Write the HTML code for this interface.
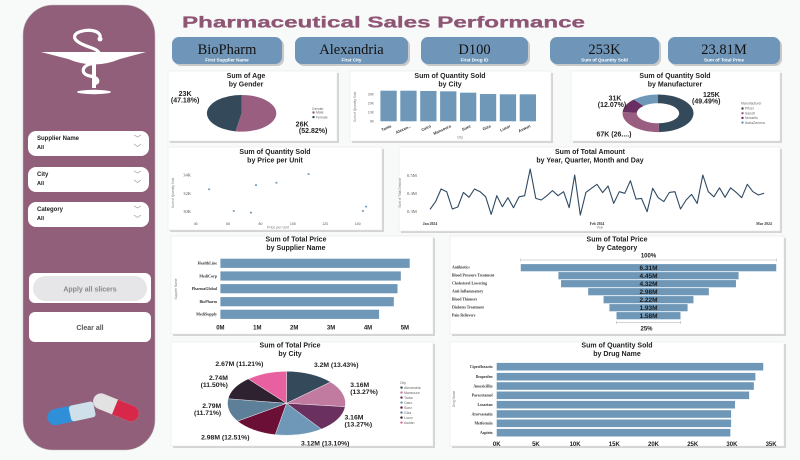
<!DOCTYPE html>
<html><head><meta charset="utf-8"><title>Pharmaceutical Sales Performance</title>
<style>
html,body{margin:0;padding:0;background:#f8f9f9;}
svg{display:block;font-family:"Liberation Sans",sans-serif;}
</style></head>
<body>
<svg id="page" width="800" height="460" viewBox="0 0 800 460" xmlns="http://www.w3.org/2000/svg">
<rect x="0" y="0" width="800" height="460" fill="#f8f9f9"/>
<g>
  <rect x="23" y="5" width="132" height="445" rx="30" fill="#925f7a" stroke="#bbb" stroke-width="0.6"/>
  <g fill="#fff" stroke="#fff">
    <path d="M41,52 L146,52 L120,59 Q94,70 68,59 Z" stroke="none"/>
    <rect x="92" y="62" width="4" height="26" stroke="none"/>
    <ellipse cx="94" cy="92" rx="17" ry="2.2" stroke="none"/>
    <path d="M100,38 C102,30 86,28 77,33 C68,40 86,46 92,48 C104,52 102,62 90,64 C82,66 80,74 90,76 C100,78 100,84 92,84" fill="none" stroke-width="3.2"/>
    <circle cx="100" cy="39" r="2.5" stroke="none"/>
  </g>
  <g>
    <rect x="28" y="131" width="121" height="25" rx="8" fill="#fff"/>
    <text x="37" y="140" font-size="6" font-weight="bold" fill="#222">Supplier Name</text>
    <text x="37" y="149" font-size="5.5" font-weight="bold" fill="#222">All</text>
    <path d="M134,135 l3.5,2 l3.5,-2 M134,144 l3.5,2.5 l3.5,-2.5" fill="none" stroke="#999" stroke-width="0.7"/>
  </g>
  <g>
    <rect x="28" y="167" width="121" height="25" rx="8" fill="#fff"/>
    <text x="37" y="176" font-size="6" font-weight="bold" fill="#222">City</text>
    <text x="37" y="185" font-size="5.5" font-weight="bold" fill="#222">All</text>
    <path d="M134,171 l3.5,2 l3.5,-2 M134,180 l3.5,2.5 l3.5,-2.5" fill="none" stroke="#999" stroke-width="0.7"/>
  </g>
  <g>
    <rect x="28" y="202" width="121" height="25" rx="8" fill="#fff"/>
    <text x="37" y="211" font-size="6" font-weight="bold" fill="#222">Category</text>
    <text x="37" y="220" font-size="5.5" font-weight="bold" fill="#222">All</text>
    <path d="M134,206 l3.5,2 l3.5,-2 M134,215 l3.5,2.5 l3.5,-2.5" fill="none" stroke="#999" stroke-width="0.7"/>
  </g>
  <g>
    <rect x="29" y="273" width="122" height="30" rx="6" fill="#fff"/>
    <rect x="33" y="276" width="114" height="25" rx="12.5" fill="#e6e6e8"/>
    <text x="90" y="291.5" font-size="7" fill="#888" text-anchor="middle" font-weight="bold">Apply all slicers</text>
  </g>
  <g>
    <rect x="29" y="312" width="122" height="30" rx="6" fill="#fff"/>
    <text x="90" y="330" font-size="7" fill="#555" text-anchor="middle" font-weight="bold">Clear all</text>
  </g>
  <g>
    <g transform="rotate(-12 70 414)">
      <rect x="47" y="406" width="48" height="16" rx="8" fill="#2f8fd8"/>
      <rect x="70" y="406" width="25" height="16" rx="3" fill="#cfe0ea"/>
    </g>
    <g transform="rotate(22 115 407)">
      <rect x="92" y="399" width="48" height="16" rx="8" fill="#e2e2e2"/>
      <rect x="115" y="399" width="25" height="16" rx="8" fill="#d8284a"/>
      <rect x="115" y="399" width="6" height="16" fill="#d8284a"/>
    </g>
  </g>
</g>
<text x="182" y="27.5" font-size="16" font-weight="900" fill="#8e5674" stroke="#8e5674" stroke-width="0.3" textLength="403" lengthAdjust="spacingAndGlyphs">Pharmaceutical Sales Performance</text>
<g id="kpis"></g>
<g id="charts"></g>
</svg>
<script>
const kpiValues = ['BioPharm','Alexandria','D100','253K','23.81M'];
const kpiLabels = ['First Supplier Name','First City','First Drug ID','Sum of Quantity Sold','Sum of Total Price'];
const genderLabels = ['Male','Female'];
const genderValues = [26.0, 23.22];
const cityBarLabels = ['Tanta','Alexan...','Cairo','Mansoura','Suez','Giza','Luxor','Aswan'];
const cityBarValues = [34, 34, 33.7, 33.3, 31.8, 30.3, 30, 30];
const cityBarTicks = [0, 10, 20, 30];
const manufLabels = ['Pfizer','Sanofi','Novartis','AstraZeneca'];
const manufValues = [125, 67, 30.5, 30.1];
const scatterPrice = [48.3, 63.5, 74.1, 77.2, 89.8, 109.7, 143.2, 145.2];
const scatterQty = [32.44, 30.08, 29.9, 32.9, 33.16, 34.1, 30.08, 30.55];
const scatterXTicks = [40, 60, 80, 100, 120, 140];
const scatterYTicks = [30, 32, 34];
const lineValues = [0.313,0.356,0.426,0.411,0.315,0.326,0.407,0.380,0.426,0.411,0.383,0.285,0.389,0.328,0.378,0.322,0.383,0.389,0.537,0.374,0.365,0.389,0.417,0.389,0.411,0.322,0.504,0.281,0.407,0.430,0.452,0.406,0.443,0.346,0.411,0.402,0.472,0.370,0.374,0.300,0.430,0.378,0.356,0.407,0.411,0.315,0.365,0.396,0.346,0.504,0.411,0.383,0.433,0.380,0.433,0.407,0.378,0.452,0.411,0.393,0.402];
const lineXLabels = ['Jan 2024','Feb 2024','Mar 2024'];
const lineXLabelIdx = [0, 30, 60];
const lineYTicks = [0.3, 0.4, 0.5];
const supplierNames = ['HealthLine','MediCorp','PharmaGlobal','BioPharm','MediSupply'];
const supplierValues = [5.13, 4.89, 4.80, 4.70, 4.30];
const supplierTicks = [0, 1, 2, 3, 4, 5];
const categoryNames = ['Antibiotics','Blood Pressure Treatment','Cholesterol Lowering','Anti-Inflammatory','Blood Thinners','Diabetes Treatment','Pain Relievers'];
const categoryValues = [6.31, 4.45, 4.32, 2.98, 2.22, 1.93, 1.58];
const pieCityNames = ['Alexandria','Mansoura','Tanta','Cairo','Suez','Giza','Luxor','Aswan'];
const pieCityValues = [3.20, 3.16, 3.16, 3.12, 2.98, 2.79, 2.74, 2.67];
const drugNames = ['Ciprofloxacin','Ibuprofen','Amoxicillin','Paracetamol','Losartan','Atorvastatin','Metformin','Aspirin'];
const drugValues = [34.0, 33.0, 32.8, 32.2, 30.4, 29.9, 29.9, 29.8];
const drugTicks = [0, 5, 10, 15, 20, 25, 30, 35];

const NS = 'http://www.w3.org/2000/svg';
const root = document.getElementById('charts');
const kroot = document.getElementById('kpis');
const BLUE = '#6f98b8';
function mk(tag, attrs, parent){const e=document.createElementNS(NS,tag);for(const k in attrs)e.setAttribute(k,attrs[k]);(parent||root).appendChild(e);return e;}
function tx(x,y,s,attrs,parent){const e=mk('text',Object.assign({x:x,y:y},attrs||{}),parent);e.textContent=s;return e;}
function panel(x,y,w,h,name){
  const g=mk('g',{});
  
  
  mk('rect',{x:x+2,y:y+2,width:w,height:h,fill:'#d4d4d4'},g);
  mk('rect',{x:x,y:y,width:w,height:h,fill:'#fff',stroke:'#e4e4e4','stroke-width':0.5},g);
  return g;
}
function title(g,cx,y1,l1,l2){
  const a=tx(cx,y1,l1,{'font-size':7,'font-weight':'bold','text-anchor':'middle',fill:'#222'},g);
  
  
  const b=tx(cx,y1+8.5,l2,{'font-size':7,'font-weight':'bold','text-anchor':'middle',fill:'#222'},g);
  
  
}
function arcPath(cx,cy,rx,ry,a0,a1,irx,iry){
  const p=(a,r1,r2)=>[cx+r1*Math.sin(a),cy-r2*Math.cos(a)];
  const large=(a1-a0)>Math.PI?1:0;
  const [x0,y0]=p(a0,rx,ry),[x1,y1]=p(a1,rx,ry);
  if(!irx) return `M${cx},${cy} L${x0},${y0} A${rx},${ry} 0 ${large} 1 ${x1},${y1} Z`;
  const [x2,y2]=p(a1,irx,iry),[x3,y3]=p(a0,irx,iry);
  return `M${x0},${y0} A${rx},${ry} 0 ${large} 1 ${x1},${y1} L${x2},${y2} A${irx},${iry} 0 ${large} 0 ${x3},${y3} Z`;
}

const kpiX=[172,295,421,550,668], kpiW=[110,113,107,109,112];
kpiValues.forEach((v,i)=>{
  const g=mk('g',{},kroot);
  
  
  mk('rect',{x:kpiX[i]+2,y:39,width:kpiW[i],height:27,rx:7,fill:'#c8c8c8'},g);
  mk('rect',{x:kpiX[i],y:37,width:kpiW[i],height:27,rx:7,fill:'#6f96b8'},g);
  tx(kpiX[i]+kpiW[i]/2,54,v,{'font-size':14.5,'font-family':'"Liberation Serif",serif','text-anchor':'middle',fill:'#111'},g);
  tx(kpiX[i]+kpiW[i]/2,61.5,kpiLabels[i],{'font-size':4.6,'font-weight':'bold','text-anchor':'middle',fill:'#fff'},g);
});

(function(){
  const g=panel(168,71,169,70,'gender-pie-panel');
  title(g,246,78,'Sum of Age','by Gender');
  const cx=241.6,cy=113.3,rx=34.7,ry=18.3,cols=['#9a5e80','#34495a'];
  const sum=genderValues.reduce((a,b)=>a+b,0);let a=0;
  genderValues.forEach((v,i)=>{
    const a1=a+v/sum*2*Math.PI;
    const s=mk('path',{d:arcPath(cx,cy,rx,ry,a,a1),fill:cols[i]},g);
    
    
    const m=(a+a1)/2,sn=Math.sin(m),cs=Math.cos(m);
    const lx=cx+(rx+14)*sn, ly=cy-(ry+6)*cs;
    const l=mk('g',{},g);
    
    
    const pct=(v/sum*100).toFixed(2);
    const xx=sn>0?lx+12:lx+6;
    tx(sn>0?xx:xx-14,ly-2+(sn>0?13:-13),Math.round(v)+'K',{'font-size':7,'font-weight':'bold','text-anchor':'middle',fill:'#222'},l);
    tx(sn>0?xx+11:xx-14,ly+4.5+(sn>0?13:-13),'('+pct+'%)',{'font-size':7,'font-weight':'bold','text-anchor':'middle',fill:'#222'},l);
    a=a1;
  });
  const lg=mk('g',{},g);
  
  
  tx(312,110,'Gender',{'font-size':3.5,fill:'#666'},lg);
  genderLabels.forEach((n,i)=>{
    mk('circle',{cx:313.5,cy:112.5+i*4.6,r:1.2,fill:cols[i]},lg);
    tx(316,113.7+i*4.6,n,{'font-size':3.5,fill:'#666'},lg);
  });
})();

(function(){
  const g=panel(350,71,201,70,'city-bar-panel');
  title(g,450,78,'Sum of Quantity Sold','by City');
  const y0=121.3,k=0.9,x0=380.4,slot=19.9,bw=16.3;
  const Y=v=>y0-v*k;
  cityBarTicks.forEach(t=>{
    const e=tx(374,Y(t)+1,t+'K',{'font-size':3.5,'text-anchor':'end',fill:'#666'},g);
    
    
  });
  cityBarValues.forEach((v,i)=>{
    const r=mk('rect',{x:x0+i*slot,y:Y(v),width:bw,height:y0-Y(v),fill:BLUE},g);
    
    
    const cx=x0+i*slot+bw/2;
    const l=tx(cx+3,127,cityBarLabels[i],{'font-size':4,'font-weight':'bold','text-anchor':'end',fill:'#333',transform:`rotate(-25 ${cx+3} 127)`},g);
    
    
  });
  const xt=tx(460,138.5,'City',{'font-size':3.5,'text-anchor':'middle',fill:'#777'},g);
  
  
  const yt=tx(356,107,'Sum of Quantity Sold',{'font-size':3.2,'text-anchor':'middle',fill:'#777',transform:'rotate(-90 356 107)'},g);
  
  
})();

(function(){
  const g=panel(571,71,209,70,'manufacturer-donut-panel');
  title(g,675,78,'Sum of Quantity Sold','by Manufacturer');
  const cx=658,cy=113.3,rx=35.5,ry=18.8,cols=['#34495a','#9a5e80','#6a2f62','#6f98b8'];
  const sum=manufValues.reduce((a,b)=>a+b,0);let a=0;
  manufValues.forEach((v,i)=>{
    const a1=a+v/sum*2*Math.PI;
    const s=mk('path',{d:arcPath(cx,cy,rx,ry,a,a1,21.2,10),fill:cols[i]},g);
    
    
    a=a1;
  });
  const pct=v=>(v/sum*100).toFixed(2);
  const lab=mk('g',{},g);
  
  
  const st={'font-size':7,'font-weight':'bold',fill:'#222'};
  tx(703,97,Math.round(manufValues[0])+'K',st,lab);
  tx(692,103.5,'('+pct(manufValues[0])+'%)',st,lab);
  tx(615,100.5,Math.round(manufValues[2])+'K',Object.assign({'text-anchor':'middle'},st),lab);
  tx(612,107,'('+pct(manufValues[2])+'%)',Object.assign({'text-anchor':'middle'},st),lab);
  tx(614,136.5,Math.round(manufValues[1])+'K (26....)',Object.assign({'text-anchor':'middle'},st),lab);
  const lg=mk('g',{},g);
  
  
  tx(741,104.5,'Manufacturer',{'font-size':3.5,fill:'#666'},lg);
  manufLabels.forEach((n,i)=>{
    mk('circle',{cx:742.5,cy:108.5+i*4.7,r:1.2,fill:cols[i]},lg);
    tx(745,109.7+i*4.7,n,{'font-size':3.5,fill:'#666'},lg);
  });
})();

(function(){
  const g=panel(168,147,214,83,'price-scatter-panel');
  title(g,275,154,'Sum of Quantity Sold','by Price per Unit');
  const X=p=>195.7+(p-40)*1.62, Y=q=>211.7-(q-30)*9.17;
  scatterYTicks.forEach(t=>{
    const e=tx(191,Y(t)+1.5,t+'K',{'font-size':4.5,'font-family':'"Liberation Serif",serif','text-anchor':'end',fill:'#555'},g);
    
    
  });
  scatterXTicks.forEach(t=>{
    const e=tx(X(t),225,t,{'font-size':3.6,'text-anchor':'middle',fill:'#555'},g);
    
    
  });
  scatterPrice.forEach((p,i)=>{
    const c=mk('rect',{x:X(p)-1,y:Y(scatterQty[i])-0.8,width:2,height:1.6,fill:BLUE},g);
    
    
  });
  const xt=tx(278,228.5,'Price per Unit',{'font-size':3.6,'text-anchor':'middle',fill:'#777'},g);
  
  
  const yt=tx(174,193,'Sum of Quantity Sold',{'font-size':3.2,'text-anchor':'middle',fill:'#777',transform:'rotate(-90 174 193)'},g);
  
  
})();

(function(){
  const g=panel(399,147,381,84,'total-amount-line-panel');
  title(g,590,154,'Sum of Total Amount','by Year, Quarter, Month and Day');
  const n=lineValues.length;
  const X=i=>430+i*(334/(n-1)), Y=v=>211.7-(v-0.3)*180;
  lineYTicks.forEach(t=>{
    const e=tx(407,Y(t)+1.5,t+'M',{'font-size':4.6,'font-family':'"Liberation Serif",serif',fill:'#555'},g);
    
    
  });
  lineXLabels.forEach((s,k)=>{
    const e=tx(X(lineXLabelIdx[k]),225,s,{'font-size':3.8,'font-weight':'bold','font-family':'"Liberation Serif",serif','text-anchor':'middle',fill:'#333'},g);
    
    
  });
  const d=lineValues.map((v,i)=>(i?'L':'M')+X(i).toFixed(1)+','+Y(v).toFixed(1)).join(' ');
  const p=mk('path',{d:d,fill:'none',stroke:'#2f4a63','stroke-width':1.1,'stroke-linejoin':'round'},g);
  
  
  const xt=tx(600,228.5,'Year',{'font-size':3.4,'text-anchor':'middle',fill:'#777'},g);
  
  
  const yt=tx(401,193,'Sum of Total Amount',{'font-size':3.2,'text-anchor':'middle',fill:'#777',transform:'rotate(-90 401 193)'},g);
  
  
})();

(function(){
  const g=panel(171,236,262,98,'supplier-bar-panel');
  title(g,296,241.5,'Sum of Total Price','by Supplier Name');
  const X=v=>220.4+v*36.9, yc=[263.3,276,288.7,301.7,314.3];
  supplierNames.forEach((s,i)=>{
    const r=mk('rect',{x:X(0),y:yc[i]-4.6,width:X(supplierValues[i])-X(0),height:9.2,fill:BLUE},g);
    
    
    const l=tx(217,yc[i]+1.4,s,{'font-size':4,'font-weight':'bold','font-family':'"Liberation Serif",serif','text-anchor':'end',fill:'#333'},g);
    
    
  });
  supplierTicks.forEach(t=>{
    const e=tx(X(t),329.5,t+'M',{'font-size':6,'font-weight':'bold','text-anchor':'middle',fill:'#222'},g);
    
    
  });
  const yt=tx(177,289,'Supplier Name',{'font-size':3.2,'text-anchor':'middle',fill:'#777',transform:'rotate(-90 177 289)'},g);
  
  
})();

(function(){
  const g=panel(450,236,334,98,'category-funnel-panel');
  title(g,617,241.5,'Sum of Total Price','by Category');
  const max=Math.max(...categoryValues), full=255.5, cx=648.5;
  const yc=[267.7,275.7,283.7,291.7,299.7,307.7,315.7];
  const top=tx(cx,257.5,'100%',{'font-size':6,'font-weight':'bold','text-anchor':'middle',fill:'#222'},g);
  
  
  mk('path',{d:`M${cx-full/2},258.5 v3 M${cx-full/2},260 H${cx+full/2} M${cx+full/2},258.5 v3`,stroke:'#aaa','stroke-width':0.5,fill:'none'},g);
  categoryValues.forEach((v,i)=>{
    const w=v/max*full;
    const r=mk('rect',{x:cx-w/2,y:yc[i]-3.6,width:w,height:7.2,fill:BLUE},g);
    
    
    const vl=tx(cx,yc[i]+2.4,v.toFixed(2)+'M',{'font-size':6.5,'font-weight':'bold','text-anchor':'middle',fill:'#1a1a1a'},g);
    
    
    const l=tx(452,yc[i]+0.8,categoryNames[i],{'font-size':3.8,'font-weight':'bold','font-family':'"Liberation Serif",serif',fill:'#333'},g);
    
    
  });
  const wl=categoryValues[categoryValues.length-1]/max*full;
  mk('path',{d:`M${cx-wl/2},321 v3 M${cx-wl/2},322.7 H${cx+wl/2} M${cx+wl/2},321 v3`,stroke:'#aaa','stroke-width':0.5,fill:'none'},g);
  const bot=tx(cx-2,330.5,Math.round(categoryValues[categoryValues.length-1]/max*100)+'%',{'font-size':6,'font-weight':'bold','text-anchor':'middle',fill:'#222'},g);
  
  
})();

(function(){
  const g=panel(171,342,262,104,'city-pie-panel');
  title(g,290,347.5,'Sum of Total Price','by City');
  const cx=286.5,cy=403.3,rx=59,ry=32;
  const cols=['#34495a','#c27ba0','#6a3060','#6f98b8','#6b0f36','#5d7f98','#2f2230','#e8609f'];
  const sum=pieCityValues.reduce((a,b)=>a+b,0);let a=0;
  pieCityValues.forEach((v,i)=>{
    const a1=a+v/sum*2*Math.PI;
    const s=mk('path',{d:arcPath(cx,cy,rx,ry,a,a1),fill:cols[i],stroke:'#fff','stroke-width':0.4},g);
    
    
    const m=(a+a1)/2,sn=Math.sin(m),cs=Math.cos(m);
    const lx=cx+(rx+8)*sn, ly=cy-(ry+8)*cs;
    const anc=sn>0.1?'start':(sn<-0.1?'end':'middle');
    const vs=v.toFixed(2).replace(/0$/,'')+'M', ps='('+(v/sum*100).toFixed(2)+'%)';
    const l=mk('g',{},g);
    
    
    const st={'font-size':6.8,'font-weight':'bold',fill:'#222','text-anchor':anc};
    if(Math.abs(sn)>0.75){
      tx(lx,ly-4,vs,st,l);
      tx(lx,ly+3,ps,st,l);
    } else {
      tx(lx,ly+(cs>0?0:3),vs+' '+ps,st,l);
    }
    a=a1;
  });
  const lg=mk('g',{},g);
  
  
  tx(400,384,'City',{'font-size':3.5,fill:'#666'},lg);
  pieCityNames.forEach((n,i)=>{
    mk('circle',{cx:401.5,cy:387.6+i*5,r:1.2,fill:cols[i]},lg);
    tx(404,388.8+i*5,n,{'font-size':3.5,fill:'#666'},lg);
  });
})();

(function(){
  const g=panel(450,342,334,104,'drug-bar-panel');
  title(g,617,347.5,'Sum of Quantity Sold','by Drug Name');
  const X=v=>496.7+v*7.84;
  const yc=[366.7,376.7,386,395.3,404.7,414,423.3,432.7];
  drugNames.forEach((s,i)=>{
    const r=mk('rect',{x:X(0),y:yc[i]-3.8,width:X(drugValues[i])-X(0),height:7.6,fill:BLUE},g);
    
    
    const l=tx(492.6,yc[i]+1.3,s,{'font-size':3.9,'font-weight':'bold','font-family':'"Liberation Serif",serif','text-anchor':'end',fill:'#333'},g);
    
    
  });
  drugTicks.forEach(t=>{
    const e=tx(X(t),446,t+'K',{'font-size':6,'font-weight':'bold','text-anchor':'middle',fill:'#222'},g);
    
    
  });
  const yt=tx(455,399,'Drug Name',{'font-size':3.2,'text-anchor':'middle',fill:'#777',transform:'rotate(-90 455 399)'},g);
  
  
})();
</script>
</body></html>
